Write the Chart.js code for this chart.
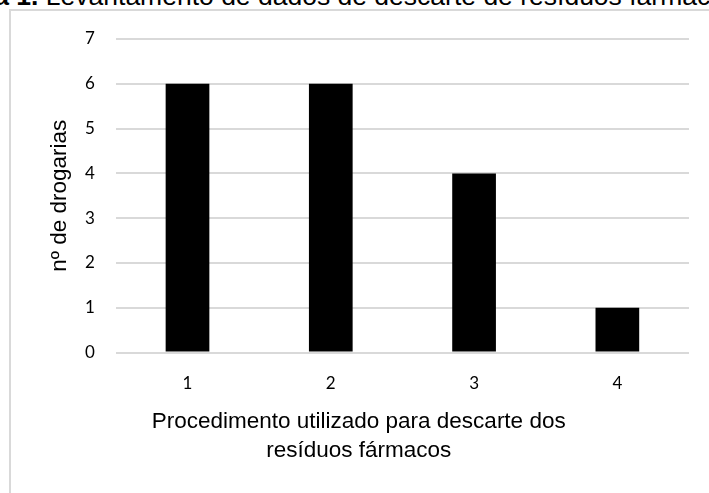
<!DOCTYPE html>
<html>
<head>
<meta charset="utf-8">
<script src="https://cdn.jsdelivr.net/npm/chart.js@4/dist/chart.umd.min.js"></script>
<style>
  body { margin: 0; background: #fff; overflow: hidden; }
  #caption { position: absolute; left: -72px; top: -19px; font: 26.5px "Liberation Sans", Arial, sans-serif; white-space: nowrap; color: #000; line-height: 30px; }
  #box { position: absolute; left: 9px; top: 9px; width: 740px; height: 520px; border: 2px solid #d9d9d9; }
  #wrap { position: absolute; left: 0; top: 0; width: 709px; height: 493px; }
</style>
</head>
<body>
<div id="caption"><b>Figura 1.</b> Levantamento de dados de descarte de resíduos fármacos</div>
<div id="box"></div>
<div id="wrap"><canvas id="chart"></canvas></div>
<script>
// categorias (procedimentos) e número de drogarias
const categorias = ["1", "2", "3", "4"];
const drogarias = [6, 6, 4, 1];
// espaços no fim deslocam o título para a esquerda, como no original
const tituloX = ["Procedimento utilizado para descarte dos" + " ".repeat(14), "resíduos fármacos" + " ".repeat(14)];
const tituloY = "nº de drogarias";

var ctx = document.getElementById("chart").getContext("2d");
var chart = new Chart(ctx, {
    type: "bar",
    data: {
        labels: categorias,
        datasets: [{
            data: drogarias,
            backgroundColor: "#000",
            borderWidth: 0,
            barPercentage: 0.61,
            categoryPercentage: 0.5
        }]
    },
    options: {
        responsive: true,
        maintainAspectRatio: false,
        animation: false,
        layout: { padding: { left: 46, right: 20, top: 39, bottom: 28 } },
        plugins: { legend: { display: false }, tooltip: { enabled: false } },
        scales: {
            x: {
                grid: { display: false, drawTicks: false },
                border: { display: false },
                ticks: { color: "#000", padding: 21, font: { family: "Lato", size: 17 } },
                title: {
                    display: true,
                    text: tituloX,
                    color: "#000",
                    padding: { top: -8, bottom: 0 },
                    font: { family: "Liberation Sans", size: 22.5, lineHeight: 1.29 }
                }
            },
            y: {
                min: 0,
                max: 7,
                grid: { color: "#d9d9d9", lineWidth: 2, drawTicks: false },
                border: { display: false },
                ticks: { stepSize: 1, color: "#000", padding: 21, font: { family: "Lato", size: 17 } },
                title: {
                    display: true,
                    text: tituloY,
                    color: "#000",
                    padding: { top: 0, bottom: -9 },
                    font: { family: "Liberation Sans", size: 22.5, lineHeight: 1.2 }
                }
            }
        }
    }
});
</script>
</body>
</html>
